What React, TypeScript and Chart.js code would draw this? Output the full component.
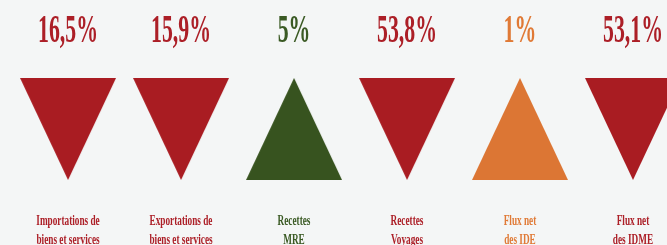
import React, { useEffect, useRef } from "react";
import { Chart, registerables } from "chart.js";

Chart.register(...registerables);

const categories: string[][] = [
  ["Importations de", "biens et services"],
  ["Exportations de", "biens et services"],
  ["Recettes", "MRE"],
  ["Recettes", "Voyages"],
  ["Flux net", "des IDE"],
  ["Flux net", "des IDME"],
];
const percentLabels: string[] = ["16,5%", "15,9%", "5%", "53,8%", "1%", "53,1%"];
const directions: string[] = ["down", "down", "up", "down", "up", "down"];
const shapeColors: string[] = ["#A91C22", "#A91C22", "#37531F", "#A91C22", "#DC7634", "#A91C22"];
const textColors: string[] = ["#AC1F27", "#AC1F27", "#3A5A24", "#AC1F27", "#E07A36", "#AC1F27"];
const positions: number[] = [0, 1, 2, 3, 4, 5];

const TRI_W = 96;
const TRI_H = 102;

function makeTriangle(dir: string, color: string): HTMLCanvasElement {
  const c = document.createElement("canvas");
  c.width = TRI_W;
  c.height = TRI_H;
  const ctx = c.getContext("2d")!;
  ctx.fillStyle = color;
  ctx.beginPath();
  if (dir === "down") {
    ctx.moveTo(0, 0);
    ctx.lineTo(TRI_W, 0);
    ctx.lineTo(TRI_W / 2, TRI_H);
  } else {
    ctx.moveTo(TRI_W / 2, 0);
    ctx.lineTo(TRI_W, TRI_H);
    ctx.lineTo(0, TRI_H);
  }
  ctx.closePath();
  ctx.fill();
  return c;
}

const labelPlugin = {
  id: "labelPlugin",
  afterDraw(chart: any) {
    const ctx: CanvasRenderingContext2D = chart.ctx;
    const xs = chart.scales.x;
    positions.forEach((p, i) => {
      const x = xs.getPixelForValue(p);
      ctx.save();
      ctx.fillStyle = textColors[i];
      ctx.textAlign = "center";
      ctx.textBaseline = "alphabetic";
      ctx.save();
      ctx.translate(x, 42);
      ctx.scale(0.56, 1);
      ctx.font = "bold 39px 'Liberation Serif'";
      ctx.fillText(percentLabels[i], 0, 0);
      ctx.restore();
      categories[i].forEach((line, j) => {
        ctx.save();
        ctx.translate(x, 224.5 + j * 19.5);
        ctx.scale(0.66, 1);
        ctx.font = "bold 14px 'Liberation Serif'";
        ctx.fillText(line, 0, 0);
        ctx.restore();
      });
      ctx.restore();
    });
  },
};

export default function App() {
  const ref = useRef<HTMLCanvasElement | null>(null);
  useEffect(() => {
    if (!ref.current) return;
    const styles = directions.map((d, i) => makeTriangle(d, shapeColors[i]));
    const chart = new Chart(ref.current, {
      type: "scatter",
      data: {
        datasets: [
          {
            data: positions.map((p) => ({ x: p, y: 0 })),
            pointStyle: styles as any,
            pointRadius: 1,
            backgroundColor: shapeColors,
            borderWidth: 0,
            clip: false as any,
          },
        ],
      },
      options: {
        animation: false,
        responsive: true,
        maintainAspectRatio: false,
        events: [],
        layout: { padding: 0, autoPadding: false },
        plugins: { legend: { display: false }, tooltip: { enabled: false } },
        scales: {
          x: { type: "linear", min: -0.602, max: 5.301, display: false },
          y: { type: "linear", min: -0.9, max: 1, display: false },
        },
      },
      plugins: [labelPlugin],
    });
    return () => chart.destroy();
  }, []);
  return (
    <div
      style={{
        position: "fixed",
        left: 0,
        top: 0,
        width: 667,
        height: 245,
        background: "#F4F6F6",
      }}
    >
      <canvas ref={ref} />
    </div>
  );
}
